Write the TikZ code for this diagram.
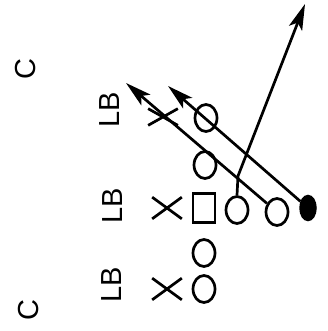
\documentclass[tikz,border=0pt]{standalone}
\usepackage{fontspec}
\setmainfont{Liberation Sans}
\usetikzlibrary{shapes.geometric,shapes.misc,arrows.meta}
\tikzset{
  lbl/.style={rotate=90,inner sep=0pt,font=\fontsize{29}{29}\selectfont},
  off/.style={ellipse,draw,line width=2.7pt,minimum width=22pt,minimum height=27pt,inner sep=0pt},
  ballc/.style={ellipse,draw,fill=black,line width=1.5pt,minimum width=16pt,minimum height=25pt,inner sep=0pt},
  ctr/.style={rectangle,draw,line width=2.7pt,minimum width=22pt,minimum height=29pt,inner sep=0pt},
  def/.style={cross out,draw,line width=2.7pt,minimum width=27pt,minimum height=19pt,inner sep=0pt},
  route/.style={line width=2.7pt,-{Stealth[length=26pt,width=14pt,inset=6pt]}}
}
\begin{document}
\begin{tikzpicture}[x=1pt,y=-1pt]
\useasboundingbox (0,0) rectangle (328,331);
% defense
\node[lbl] (c1) at (26,69) {C};
\node[lbl] (c2) at (29,310) {C};
\node[lbl] (lb1) at (110,110) {LB};
\node[lbl] (lb2) at (113,206) {LB};
\node[lbl] (lb3) at (112,285) {LB};
\node[def] (x1) at (167,208) {};
\node[def] (x2) at (167,289) {};
\node[def,minimum height=14pt] (x3) at (163,117) {};
% offense
\node[off] (t1) at (206,118) {};
\node[off] (t2) at (205,165) {};
\node[ctr] (ce) at (204,208) {};
\node[off] (g1) at (204,253) {};
\node[off] (g2) at (204,289) {};
\node[off] (b1) at (237,210) {};
\node[off] (b2) at (277,212) {};
\node[ballc] (bc) at (308,208) {};
% routes
\coordinate (tip1) at (126,83);
\coordinate (tip2) at (168,86);
\coordinate (tip3) at (305,4);
\coordinate (bend) at (238,176);
\draw[route] (b2) -- (tip1);
\draw[route] (bc) -- (tip2);
\draw[route] (b1.north) -- (bend) -- (tip3);
\end{tikzpicture}
\end{document}
